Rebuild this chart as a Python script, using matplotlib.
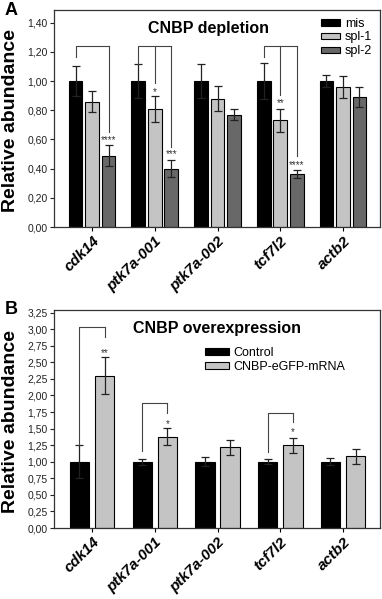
import matplotlib
matplotlib.use('Agg')
import matplotlib.pyplot as plt
import matplotlib.transforms as mtransforms
import numpy as np

plt.rcParams['font.family'] = ['Liberation Sans', 'DejaVu Sans']

genes = ['cdk14', 'ptk7a-001', 'ptk7a-002', 'tcf7l2', 'actb2']

# panel A - CNBP depletion
mis = [1.00, 1.00, 1.00, 1.00, 1.00]
mis_err = [0.105, 0.115, 0.115, 0.125, 0.04]
spl1 = [0.86, 0.81, 0.88, 0.73, 0.96]
spl1_err = [0.07, 0.09, 0.088, 0.08, 0.078]
spl2 = [0.49, 0.40, 0.77, 0.365, 0.89]
spl2_err = [0.072, 0.058, 0.04, 0.027, 0.07]

# brackets: gene, top, end of left leg, [(bar, end of leg, stars, star y)]
brackets_a = [
    (0, 1.24, 1.165, [(2, 0.65, '****', 0.61)]),
    (1, 1.24, 1.12, [(1, 0.985, '*', 0.94), (2, 0.55, '***', 0.515)]),
    (3, 1.24, 1.165, [(1, 0.905, '**', 0.865), (2, 0.49, '****', 0.44)]),
]

# panel B - CNBP overexpression
control = [1.00, 1.00, 1.00, 1.00, 1.00]
control_err = [0.25, 0.045, 0.07, 0.035, 0.055]
cnbp = [2.30, 1.38, 1.22, 1.25, 1.08]
cnbp_err = [0.28, 0.13, 0.115, 0.115, 0.11]

brackets_b = [
    (0, 3.04, 1.25, [(1, 2.88, '**', 2.68)]),
    (1, 1.88, 1.16, [(1, 1.73, '*', 1.60)]),
    (3, 1.73, 1.15, [(1, 1.60, '*', 1.48)]),
]

yticks_a = np.arange(0, 1.41, 0.2)
yticks_b = np.arange(0, 3.26, 0.25)


def draw_panel(ax, series, errs, names, colors, offsets, width, ymax, yticks,
               brackets, title, title_x, leg_anchor, leg_len, star_dy):
    x = np.arange(len(genes))
    for vals, err, name, col, off in zip(series, errs, names, colors, offsets):
        ax.bar(x + off, vals, width, color=col, edgecolor='black',
               linewidth=0.8, label=name, zorder=2)
        ax.errorbar(x + off, vals, yerr=err, fmt='none', ecolor='#222222',
                    elinewidth=0.9, capsize=3, capthick=0.9, zorder=3)

    for g, top, left_end, legs in brackets:
        xl = g + offsets[0]
        xr = g + offsets[max(b for b, _, _, _ in legs)]
        ax.plot([xl, xl, xr], [left_end, top, top], color='#444444', lw=0.8, zorder=4)
        for b, end, stars, sy in legs:
            xb = g + offsets[b]
            ax.plot([xb, xb], [top, end], color='#444444', lw=0.8, zorder=4)
            ax.annotate(stars, (xb, sy), xytext=(0, star_dy), textcoords='offset points',
                        ha='center', va='baseline', fontsize=7, color='#333333')

    ax.set_xlim(-0.606, 4.59)
    ax.set_ylim(0, ymax)
    ax.set_yticks(yticks)
    ax.set_yticklabels([('%.2f' % v).replace('.', ',') for v in yticks])
    ax.set_xticks(x)
    ax.set_xticklabels(genes, fontsize=11, fontweight='bold', fontstyle='italic',
                       rotation=45, ha='right', va='top', rotation_mode='anchor')
    shift = mtransforms.ScaledTranslation(0.19, 0.0, ax.figure.dpi_scale_trans)
    for lab in ax.get_xticklabels():
        lab.set_transform(lab.get_transform() + shift)
    ax.tick_params(axis='y', labelsize=7.5, length=3, width=0.8, pad=1.5, colors='#222222')
    ax.tick_params(axis='x', length=3, width=0.8, pad=2)
    for sp in ax.spines.values():
        sp.set_linewidth(0.9)
        sp.set_color('#333333')

    ax.text(-0.132, 0.49, 'Relative abundance', transform=ax.transAxes, rotation=90,
            ha='center', va='center', fontsize=14, fontweight='bold')
    ax.text(title_x, 0.915, title, transform=ax.transAxes, ha='center', va='center',
            fontsize=11.5, fontweight='bold')
    ax.legend(loc='upper left', bbox_to_anchor=leg_anchor, frameon=False, fontsize=9,
              handlelength=leg_len, handleheight=0.45, handletextpad=0.4,
              labelspacing=0.15, borderpad=0, borderaxespad=0)


fig = plt.figure(figsize=(3.82, 5.99), dpi=100)
ax_a = fig.add_axes([0.1414, 0.621, 0.8534, 0.3623])
ax_b = fig.add_axes([0.1414, 0.1185, 0.8534, 0.364])

draw_panel(ax_a, [mis, spl1, spl2], [mis_err, spl1_err, spl2_err],
           ['mis', 'spl-1', 'spl-2'], ['black', '#c4c4c4', '#686868'],
           [-0.263, 0.0, 0.263], 0.22, 1.487, yticks_a, brackets_a,
           'CNBP depletion', 0.475, (0.819, 0.965), 1.5, -4)

draw_panel(ax_b, [control, cnbp], [control_err, cnbp_err],
           ['Control', 'CNBP-eGFP-mRNA'], ['black', '#c4c4c4'],
           [-0.2, 0.2], 0.31, 3.29, yticks_b, brackets_b,
           'CNBP overexpression', 0.5, (0.463, 0.83), 1.9, -4)

fig.text(0.012, 0.997, 'A', fontsize=13, fontweight='bold', va='top', ha='left')
fig.text(0.012, 0.497, 'B', fontsize=13, fontweight='bold', va='top', ha='left')

fig.savefig('out.png', dpi=100)
